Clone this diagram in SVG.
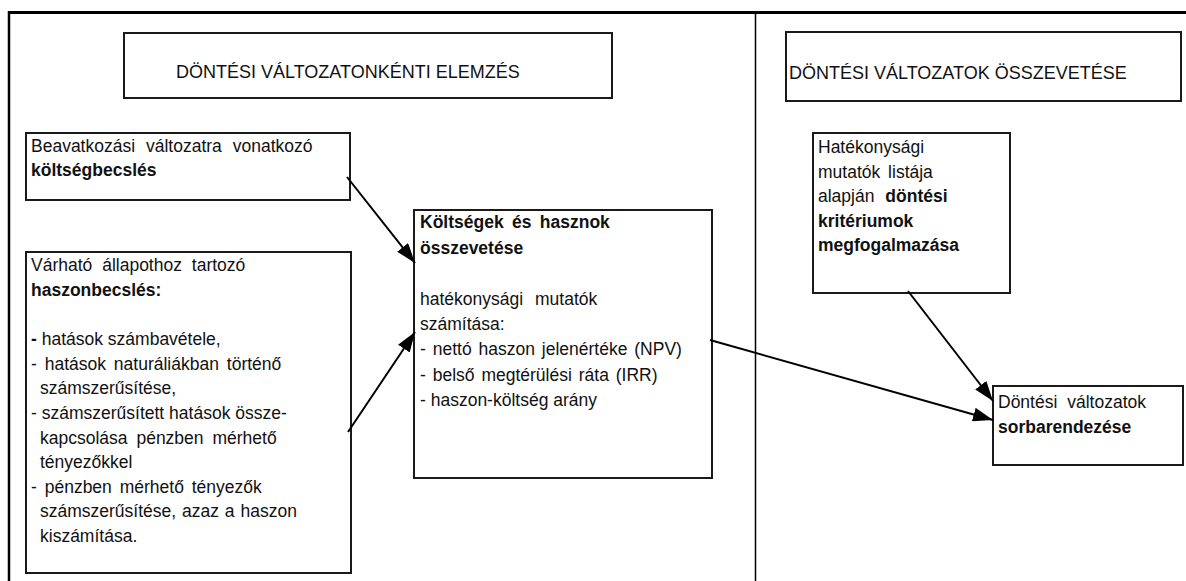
<svg xmlns="http://www.w3.org/2000/svg" width="1186" height="581" viewBox="0 0 1186 581">
  <style>
    .box { fill: #fff; stroke: #1a1a1a; stroke-width: 2; }
    .frame { stroke: #000; fill: none; }
    .t { font-family: "Liberation Sans", Arial, Helvetica, sans-serif; font-size: 17.5px; fill: #111; }
    .b { font-weight: bold; }
    .h { font-size: 18px; }
    .conn { stroke: #000; stroke-width: 2; fill: none; marker-end: url(#arr); }
  </style>
  <defs>
    <marker id="arr" markerUnits="userSpaceOnUse" markerWidth="22" markerHeight="14" refX="20" refY="7" orient="auto">
      <path d="M0,0 L20,7 L0,14 Z" fill="#000"/>
    </marker>
  </defs>
  <rect width="1186" height="581" fill="#fff"/>

  <!-- page frame and column divider -->
  <g id="frame">
    <line class="frame" x1="8" y1="12.5" x2="1186" y2="12.5" stroke-width="3"/>
    <line class="frame" x1="9" y1="11" x2="9" y2="581" stroke-width="2.5"/>
    <line class="frame" x1="755.5" y1="13" x2="755.5" y2="581" stroke-width="1.5"/>
  </g>

  <g id="title-left">
    <rect class="box" x="124" y="33" width="488" height="65"/>
    <text class="t h" x="176" y="78">DÖNTÉSI VÁLTOZATONKÉNTI ELEMZÉS</text>
  </g>

  <g id="title-right">
    <rect class="box" x="786" y="32" width="395" height="69"/>
    <text class="t h" x="789" y="79">DÖNTÉSI VÁLTOZATOK ÖSSZEVETÉSE</text>
  </g>

  <g id="cost-estimate">
    <rect class="box" x="26" y="133" width="324" height="67"/>
    <text class="t" x="31" y="152" word-spacing="6">Beavatkozási változatra vonatkozó</text>
    <text class="t b" x="31" y="176">költségbecslés</text>
  </g>

  <g id="benefit-estimate">
    <rect class="box" x="26" y="252" width="325" height="321"/>
    <text class="t" x="31" y="271" word-spacing="5">Várható állapothoz tartozó</text>
    <text class="t b" x="31" y="296">haszonbecslés:</text>
    <text class="t" x="31" y="345"><tspan class="b">-</tspan> hatások számbavétele,</text>
    <text class="t" x="31" y="370" word-spacing="3">- hatások naturáliákban történő</text>
    <text class="t" x="40" y="394">számszerűsítése,</text>
    <text class="t" x="31" y="419">- számszerűsített hatások össze-</text>
    <text class="t" x="40" y="444" word-spacing="4">kapcsolása pénzben mérhető</text>
    <text class="t" x="40" y="468">tényezőkkel</text>
    <text class="t" x="31" y="493" word-spacing="3">- pénzben mérhető tényezők</text>
    <text class="t" x="40" y="517" word-spacing="1">számszerűsítése, azaz a haszon</text>
    <text class="t" x="40" y="542">kiszámítása.</text>
  </g>

  <g id="cost-benefit">
    <rect class="box" x="414" y="210" width="298" height="268"/>
    <text class="t b" x="420" y="228" word-spacing="3.5">Költségek és hasznok</text>
    <text class="t b" x="420" y="253.5">összevetése</text>
    <text class="t" x="420" y="304.5" word-spacing="7">hatékonysági mutatók</text>
    <text class="t" x="420" y="330">számítása:</text>
    <text class="t" x="420" y="355" word-spacing="2">- nettó haszon jelenértéke (NPV)</text>
    <text class="t" x="420" y="380.5" word-spacing="2">- belső megtérülési ráta (IRR)</text>
    <text class="t" x="420" y="406">- haszon-költség arány</text>
  </g>

  <g id="criteria">
    <rect class="box" x="813" y="133" width="197" height="160"/>
    <text class="t" x="818" y="153">Hatékonysági</text>
    <text class="t" x="818" y="177.5" word-spacing="3">mutatók listája</text>
    <text class="t" x="818" y="202">alapján <tspan class="b" dx="6">döntési</tspan></text>
    <text class="t b" x="818" y="226.5">kritériumok</text>
    <text class="t b" x="818" y="251">megfogalmazása</text>
  </g>

  <g id="ranking">
    <rect class="box" x="993" y="386" width="190" height="79"/>
    <text class="t" x="998" y="408" word-spacing="5">Döntési változatok</text>
    <text class="t b" x="998" y="433">sorbarendezése</text>
  </g>

  <g id="connectors">
    <line class="conn" x1="347" y1="177" x2="415" y2="263"/>
    <line class="conn" x1="348" y1="432" x2="415" y2="332"/>
    <line class="conn" x1="710" y1="340" x2="993" y2="420"/>
    <line class="conn" x1="908" y1="291" x2="993" y2="401"/>
  </g>
</svg>
